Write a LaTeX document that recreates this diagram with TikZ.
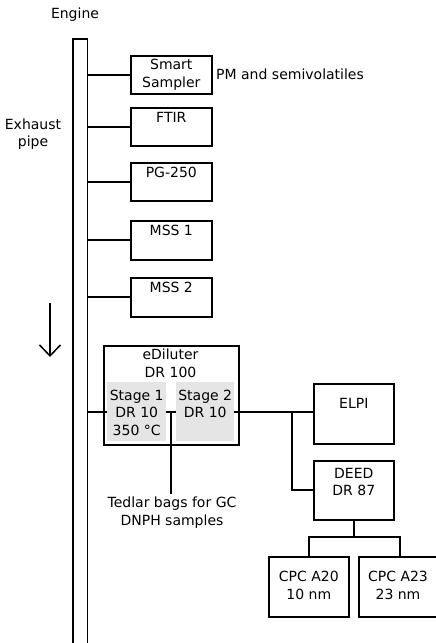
\documentclass[tikz,border=0pt]{standalone}
\usepackage{fontspec}
\setmainfont{DejaVu Sans}
\usetikzlibrary{calc,arrows.meta}
\begin{document}
\begin{tikzpicture}[x=1pt,y=-1pt,
  box/.style={draw,line width=1.6pt,inner sep=0pt,anchor=north west,minimum width=81pt,minimum height=38pt},
  stagebox/.style={fill=black!10,inner sep=0pt,anchor=north west,minimum height=59pt},
  txt/.style={font=\fontsize{14}{17.5}\selectfont,align=center,inner sep=0pt},
  conn/.style={line width=1.8pt},
]
\useasboundingbox (0,0) rectangle (436,643);
% pipe
\node[draw,line width=1.5pt,inner sep=0pt,anchor=north west,minimum width=14.5pt,minimum height=612pt] (pipe) at (72,38) {};
\node[txt] (engine) at (75,15) {Engine};
\node[txt] (exhaust) at (33,134) {Exhaust\\pipe};
\coordinate (arrtop) at (50,303);
\coordinate (arrbot) at (50,357);
\draw[line width=1.5pt,-{Straight Barb[length=11pt,width=21pt,line width=1.5pt]}] (arrtop) -- (arrbot);
% instruments
\node[box] (smart) at (130,55) {};
\node[txt] at (smart.center) {Smart\\Sampler};
\node[txt,anchor=west] (pm) at (216,74) {PM and semivolatiles};
\node[box] (ftir) at (130,107) {};
\node[txt] at ($(ftir.north)+(0,10.5)$) {FTIR};
\node[box] (pg) at (130,162) {};
\node[txt] at ($(pg.north)+(0,10.5)$) {PG-250};
\node[box,minimum height=39pt] (mss1) at (130,220) {};
\node[txt] at ($(mss1.north)+(0,10.5)$) {MSS 1};
\node[box,minimum height=39pt] (mss2) at (130,277) {};
\node[txt] at ($(mss2.north)+(0,10.5)$) {MSS 2};
\foreach \b in {smart,ftir,pg,mss1,mss2}
  \draw[conn] (pipe.east |- \b.west) -- (\b.west);
% eDiluter
\node[box,minimum width=135pt,minimum height=99pt] (edil) at (103,345) {};
\node[txt] at (170.5,363.5) {eDiluter\\DR 100};
\node[stagebox,minimum width=59pt] (stage1) at (107,382) {};
\node[stagebox,minimum width=58pt] (stage2) at (176,382) {};
\node[txt] at ($(stage1.center)+(0,1)$) {Stage 1\\DR 10\\350 °C};
\node[txt] at ($(stage2.center)+(0,-8)$) {Stage 2\\DR 10};
\draw[conn] (pipe.east |- stage1.west) -- (stage1.west);
\draw[conn] (stage1.east) -- (stage2.west);
\coordinate (tap) at ($(stage1.east)!0.5!(stage2.west)$);
\node[txt,inner sep=3pt] (tedlar) at (172,512.5) {Tedlar bags for GC\\DNPH samples};
\draw[conn] (tap) -- (tap |- tedlar.north);
% downstream
\node[box,minimum width=80pt,minimum height=60pt] (elpi) at (313,383) {};
\node[txt] at ($(elpi.north)+(0,20)$) {ELPI};
\node[box,minimum width=80pt,minimum height=59pt] (deed) at (313,460) {};
\node[txt] at ($(deed.north)+(0,22)$) {DEED\\DR 87};
\draw[conn] (stage2.east) -- (stage2.east -| elpi.west);
\coordinate (branch) at (stage2.east -| 292,0);
\draw[conn] (branch) |- (deed.west);
\node[box,minimum width=80pt,minimum height=60pt] (cpc20) at (268,556) {};
\node[txt] at ($(cpc20.north)+(0,29.5)$) {CPC A20\\10 nm};
\node[box,minimum width=82pt,minimum height=60pt] (cpc23) at (358,556) {};
\node[txt] at (398,585.5) {CPC A23\\23 nm};
\coordinate (split) at ($(deed.south)+(0,16)$);
\draw[conn] (deed.south) -- (split);
\draw[conn] (cpc20.north) |- (split) -| (cpc23.north);
\end{tikzpicture}
\end{document}
